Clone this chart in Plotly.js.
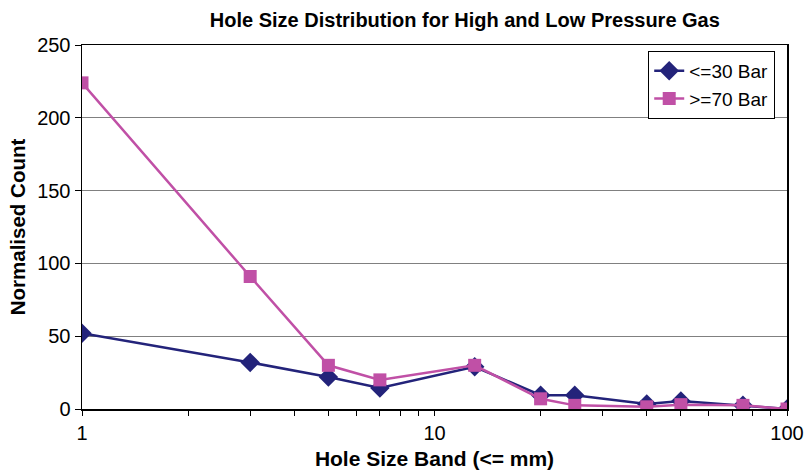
<!DOCTYPE html>
<html><head><meta charset="utf-8">
<script src="https://cdn.plot.ly/plotly-3.0.1.min.js"></script>
<style>html,body{margin:0;padding:0;background:#fff}#c{width:807px;height:475px}</style>
</head><body><div id="c"></div>
<script>
const holeSize = [1, 3, 5, 7, 13, 20, 25, 40, 50, 75, 100];
const lowPressure = [52, 32, 22, 14.5, 29, 9.5, 9.5, 3.5, 5.5, 2.5, 0];
const highPressure = [224, 91, 30, 20, 30, 7, 2.5, 1.5, 3, 2.5, 0];
const xTickVals = [1, 10, 100];
const xMinorVals = [2,3,4,5,6,7,8,9,20,30,40,50,60,70,80,90];
const yTickVals = [0, 50, 100, 150, 200, 250];

const font = 'Liberation Sans, Arial, Helvetica, sans-serif';
const traces = [
  {x: holeSize, y: lowPressure, name: '<=30 Bar', mode: 'lines+markers', type: 'scatter',
   line: {color: '#23237A', width: 2.5}, marker: {symbol: 'diamond', size: 15, color: '#23237A'}},
  {x: holeSize, y: highPressure, name: '>=70 Bar', mode: 'lines+markers', type: 'scatter',
   line: {color: '#C050A6', width: 2.5}, marker: {symbol: 'square', size: 13, color: '#C050A6'}}
];
const layout = {
  width: 807, height: 475,
  margin: {l: 82, r: 20, t: 45, b: 66},
  paper_bgcolor: '#fff', plot_bgcolor: '#fff',
  font: {family: font, color: '#000'},
  title: {text: '<b>Hole Size Distribution for High and Low Pressure Gas</b>',
          font: {size: 20, family: font}, x: 0.576, xanchor: 'center', y: 0.958, yanchor: 'middle'},
  xaxis: {type: 'log', range: [0, 2], tickmode: 'array', tickvals: xTickVals, ticktext: xTickVals.map(String),
          ticks: 'outside', ticklen: 5, tickcolor: '#000', showgrid: false, zeroline: false,
          showline: true, linecolor: '#000', linewidth: 1.5, mirror: true,
          minor: {tickmode: 'array', tickvals: xMinorVals, ticks: 'outside', ticklen: 5, tickcolor: '#000', showgrid: false},
          tickfont: {size: 20, family: font},
          title: {text: '<b>Hole Size Band (<= mm)</b>', font: {size: 21, family: font}, standoff: 9}},
  yaxis: {range: [0, 250], tickmode: 'array', tickvals: yTickVals, ticks: 'outside', ticklen: 6, tickcolor: '#000',
          showgrid: true, gridcolor: '#808080', gridwidth: 1, zeroline: false,
          showline: true, linecolor: '#000', linewidth: 1.5, mirror: true,
          tickfont: {size: 20, family: font},
          title: {text: '<b>Normalised Count</b>', font: {size: 20.5, family: font}, standoff: 6}},
  legend: {x: 0.983, xanchor: 'right', y: 0.984, yanchor: 'top', bgcolor: '#fff',
           bordercolor: '#000', borderwidth: 1.2, font: {size: 19, family: font}},
  showlegend: true
};
Plotly.newPlot('c', traces, layout, {displayModeBar: false, staticPlot: true});
</script></body></html>
